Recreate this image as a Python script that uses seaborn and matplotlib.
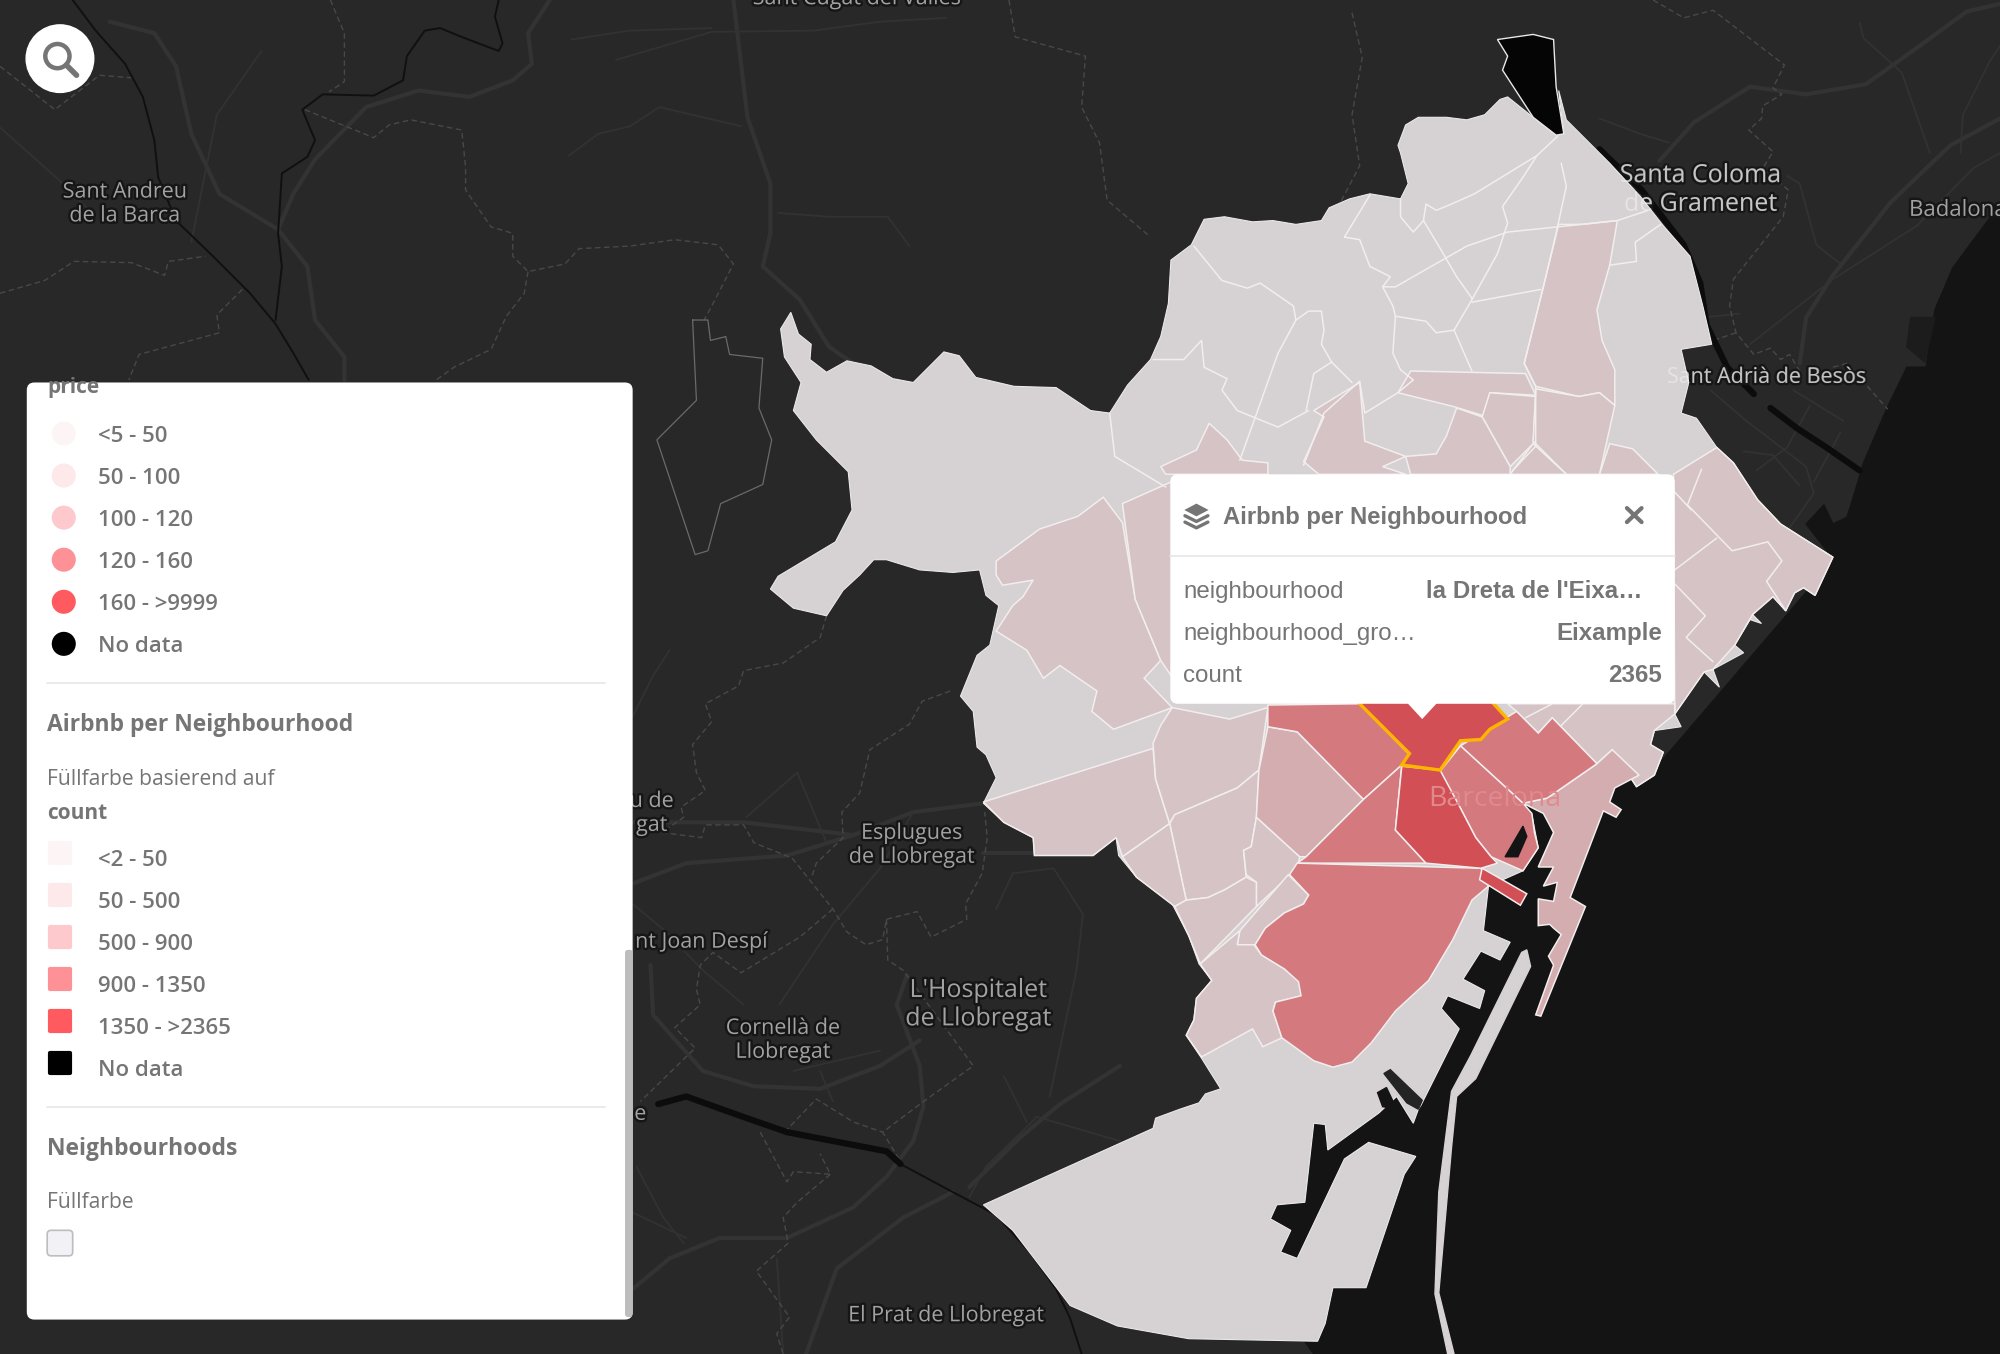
import pandas as pd
import matplotlib.pyplot as plt
import matplotlib.patheffects as pe
from matplotlib.patches import FancyBboxPatch, Circle, Polygon
import seaborn as sns

# Colours for the count classes as they look on the map
LAND = "#d6d1d3"
PALE = "#d5c3c5"
MID = "#d4adb0"
SALMON = "#d4797e"
RED = "#d14f55"
BG = "#282828"
SEA = "#141414"
GREY_TEXT = "#757575"

# Legend content
price_labels = ["<5 - 50", "50 - 100", "100 - 120", "120 - 160", "160 - >9999", "No data"]
count_labels = ["<2 - 50", "50 - 500", "500 - 900", "900 - 1350", "1350 - >2365", "No data"]
class_colors = ["#fdf5f5", "#fde8ea", "#fdc9cc", "#fe9195", "#fe5a5f", "#000000"]

# Popup content
popup_keys = ["neighbourhood", "neighbourhood_gro…", "count"]
popup_values = ["la Dreta de l'Eixa…", "Eixample", "2365"]

# Map shapes
city_outline = [(612,258),(620,245),(626,262),(636,270),(635,282),(648,292),(664,283),(683,287),(700,297),(716,300),
    (728,288),(740,276),(752,279),(765,296),(795,303),(828,304),(855,322),(870,324),(884,302),(902,282),(910,264),
    (916,238),(918,204),(934,192),(944,172),(960,170),(982,174),(998,173),(1016,176),(1036,173),(1042,163),(1058,156),
    (1074,152),(1098,156),(1104,144),(1098,120),(1096,114),(1102,98),(1112,92),(1134,92),(1150,94),(1164,90),(1176,78),
    (1182,76),(1202,92),(1220,106),(1226,105),(1222,71),(1228,94),(1262,128),(1286,154),(1304,177),(1325,201),(1335,240),
    (1342,270),(1318,274),(1324,300),(1318,324),(1330,328),(1346,351),(1359,363),(1378,392),
    (1396,411),(1437,437),(1423,467),(1414,461),(1407,465),(1400,479),(1390,468),(1374,482),(1381,489),(1372,486),
    (1360,506),(1367,512),(1343,525),(1348,539),(1336,527),(1313,560),(1318,570),(1297,573),(1294,584),(1304,590),
    (1297,608),(1283,617),(1264,588),(1194,633),(1201,639),(1206,665),(1194,683),(1167,695),(1163,730),(1184,739),
    (1176,753),(1161,746),(1147,768),(1164,777),(1160,791),(1135,781),(1130,791),(1144,807),(1114,867),(1112,870),
    (1108,881),(1095,860),(1081,873),(1041,902),(1039,882),(1030,881),(1023,943),(1001,945),(996,956),(1012,965),
    (1004,982),(1017,987),(1054,909),(1073,896),(1110,907),(1101,921),(1071,1010),(1045,1010),(1039,1038),(1033,1052),
    (932,1050),(876,1040),(839,1024),(820,999),(794,965),(771,945),(904,885),(906,877),(925,870),(940,865),(945,858),
    (957,854),(942,830),(930,812),(936,800),(938,783),(950,769),(940,756),(932,734),(919,709),(891,688),(877,671),
    (875,657),(857,671),(811,671),(810,657),(787,645),(771,630),(781,610),(773,592),(766,586),(763,558),(753,546),
    (766,514),(776,506),(783,475),(773,467),(768,447),(747,449),(721,447),(695,439),(685,439),(674,451),(661,463),
    (648,483),(622,477),(604,462),(610,452),(635,437),(655,425),(668,400),(665,370),(640,345),(622,322),(628,300),(615,280)]

breakwater = [(1193,747),(1197,745),(1200,758),(1157,846),(1142,860),(1138,900),(1128,1014),(1140,1062),(1135,1062),
    (1125,1015),(1128,935),(1138,856),(1153,828)]
no_data_area = [(1174,31),(1202,27),(1218,31),(1220,68),(1226,105),(1220,106),(1202,92),(1178,55),(1182,44)]
sea_area = [(1568,165),(1560,171),(1531,210),(1517,243),(1510,288),(1495,288),(1479,321),(1461,363),(1453,390),(1437,440),
    (1300,600),(1200,620),(1150,690),(1000,880),(985,1000),(1030,1062),(1568,1062)]
besos_mouth = [(1416,411),(1430,396),(1437,411),(1456,402),(1437,438)]
marina_basin = [(1498,249),(1517,249),(1509,284),(1495,272)]

pale_areas = [
    [(771,629),(904,587),(906,611),(917,646),(880,672),(875,657),(857,671),(811,671),(810,657),(787,645)],
    [(919,555),(964,564),(994,555),(987,604),(970,618),(921,639),(917,646),(906,611),(904,583),(910,569)],
    [(917,646),(921,639),(970,618),(987,604),(985,641),(981,664),(975,667),(977,688),(960,698),(947,704),(930,706)],
    [(880,672),(917,646),(930,706),(921,711),(891,688)],
    [(985,641),(1019,672),(1017,681),(985,711),(985,692),(977,686),(975,667),(981,664)],
    [(921,711),(930,706),(947,704),(960,698),(977,688),(985,692),(985,711),(941,756),(932,734)],
    [(1010,686),(1026,702),(1022,709),(1007,716),(992,728),(984,741),(981,741),(970,741),(972,730)],
    [(941,756),(972,730),(970,741),(983,741),(989,749),(1007,760),(1020,770),(1022,781),(1000,786),(998,793),(1005,814),
     (990,821),(982,807),(942,829),(930,812),(936,800),(938,783),(950,769)],
    [(781,440),(815,415),(845,405),(865,390),(880,410),(890,470),(910,518),(897,532),(919,555),(873,572),(856,558),
     (860,542),(831,522),(818,532),(805,510),(781,495),(794,475),(802,468),(810,455),(786,459),(781,451)],
    [(880,395),(925,375),(925,540),(910,518),(890,470)],
    [(1222,176),(1240,176),(1268,173),(1262,208),(1252,243),(1256,267),(1266,290),(1266,318),(1254,308),(1238,311),
     (1204,303),(1195,285),(1210,225)],
    [(1106,291),(1196,293),(1204,310),(1168,308),(1166,327),(1140,319),(1096,308)],
    [(1168,308),(1204,311),(1202,348),(1184,366),(1162,327)],
    [(1204,305),(1238,311),(1254,308),(1266,318),(1254,372),(1228,372),(1202,346)],
    [(1202,348),(1228,372),(1184,372)],
    [(1142,320),(1162,327),(1184,366),(1184,372),(1106,372),(1102,358),(1126,356),(1134,342)],
    [(1262,348),(1280,352),(1300,372),(1254,372)],
    [(1066,300),(1070,346),(1102,358),(1084,366),(1102,372),(1034,372),(1022,362),(1038,327),(1030,322)],
    [(948,332),(962,345),(974,361),(994,363),(994,372),(914,372),(910,366),(938,353)],
    [(1312,372),(1346,351),(1359,363),(1378,392),(1396,411),(1437,437),(1423,467),(1414,461),(1407,465),(1400,479),(1390,468),
     (1374,482),(1360,506),(1343,525),(1336,527),(1313,560)],
    [(1182,552),(1313,552),(1313,560),(1297,573),(1294,584),(1304,590),(1297,608),(1283,617),(1264,588),(1252,599),
     (1217,563),(1206,575),(1189,558)],
]
mid_areas = [
    [(994,570),(1017,574),(1069,627),(1024,672),(1019,672),(985,641),(987,604)],
    [(1194,630),(1213,626),(1252,599),(1264,588),(1285,608),(1266,618),(1262,629),(1271,635),(1267,641),(1257,636),
     (1231,704),(1243,711),(1208,797),(1204,796),(1218,757),(1214,750),(1224,733),(1218,728),(1215,725),(1206,726),
     (1206,705),(1218,707),(1221,692),(1210,695),(1218,680),(1206,680),(1218,653),(1210,638)],
]
salmon_areas = [
    [(994,553),(1066,552),(1105,592),(1099,600),(1069,627),(1017,574),(994,570)],
    [(1099,600),(1094,651),(1118,677),(1017,677),(1024,672),(1069,627)],
    [(1145,585),(1189,558),(1206,575),(1217,563),(1252,599),(1213,626),(1194,630)],
    [(1129,605),(1145,585),(1194,630),(1201,638),(1203,653),(1206,665),(1194,683),(1169,672),(1157,657),(1144,632)],
    [(1017,677),(1161,681),(1167,695),(1154,706),(1139,737),(1120,769),(1094,793),(1075,818),(1060,833),(1045,837),
     (1030,832),(1005,814),(998,793),(1000,786),(1020,781),(1018,770),(1007,760),(989,749),(984,741),(992,728),
     (1007,716),(1022,709),(1026,702),(1011,686)],
]
red_areas = [
    [(1099,601),(1129,604),(1144,632),(1157,657),(1169,672),(1174,677),(1161,681),(1118,677),(1094,651)],
    [(1162,681),(1197,701),(1192,710),(1160,690)],
]
selected_area = [(1066,552),(1105,591),(1099,600),(1129,604),(1145,581),(1161,580),(1168,572),(1182,564),(1171,552),(1120,500)]
port_holes = [
    [(1194,648),(1197,656),(1190,672),(1180,672)],
    [(1080,857),(1087,853),(1095,870),(1084,868)],
]
dark_slits = [[(1085,842),(1090,839),(1115,863),(1112,870),(1103,865)]]

boundary_lines = [
    [(1221,107),(1205,122),(1194,139),(1178,162),(1182,175),(1174,199),(1154,235),(1140,259),(1126,261),(1118,252),
     (1094,248),(1092,240),(1084,225),(1090,217),(1074,209),(1066,188),(1054,186),(1074,153)],
    [(1205,122),(1174,141),(1156,152),(1138,160),(1126,165),(1118,160),(1116,173),(1108,182),(1098,170),(1098,156)],
    [(1116,173),(1128,193),(1142,217),(1154,234)],
    [(1268,173),(1240,176),(1182,182),(1150,193),(1094,225),(1084,225)],
    [(1224,128),(1228,146),(1220,183),(1210,225),(1195,285),(1204,303),(1204,350),(1186,369)],
    [(1154,237),(1208,227)],
    [(1140,259),(1154,291)],
    [(1302,176),(1282,190),(1283,205),(1262,208)],
    [(1292,165),(1268,173)],
    [(1094,248),(1092,277),(1098,290),(1108,298),(1096,308),(1070,324),(1066,299),(1038,324),(1022,365)],
    [(936,193),(958,220),(978,226),(988,222),(1014,240),(1016,251)],
    [(1016,251),(1026,244),(1036,244),(1038,259),(1036,270),(1044,284),(1060,300)],
    [(1016,251),(1002,277),(986,322),(972,361)],
    [(904,282),(928,282),(942,267),(944,288),(962,297),(958,306),(970,322),(1002,335),(1026,322)],
    [(1044,284),(1030,293),(1024,322)],
    [(870,324),(874,358),(914,382)],
    [(1334,368),(1323,396),(1358,432),(1386,425),(1397,440),(1385,456),(1400,479)],
    [(1346,422),(1313,447)],
    [(1313,458),(1337,483),(1322,500),(1343,519)],
    [(1196,563),(1217,552)],
    [(1224,569),(1241,552)],
    [(1300,372),(1326,400)],
]

# Streets of the base map
wide_roads = [
    [(86,17),(121,26),(138,52),(150,105),(172,152),(218,180),(241,209),(247,251),(270,280),(270,298)],
    [(218,180),(230,152),(247,125),(287,84),(328,71),(368,76),(402,63),(417,50),(414,26),(431,0)],
    [(575,0),(586,92),(604,144),(604,183),(598,209),(627,235),(650,272),(673,288)],
    [(1301,126),(1328,96),(1372,68),(1416,74),(1463,66),(1505,36),(1542,9),(1568,3)],
    [(1411,285),(1416,249),(1437,216),(1482,159),(1529,114),(1568,93)],
    [(496,693),(538,677),(617,671),(669,655),(716,637),(771,630)],
    [(496,645),(583,645),(669,655)],
    [(878,836),(831,866),(800,892),(760,931)],
    [(711,765),(703,788),(721,836),(724,868),(716,895),(695,923),(669,947),(617,971),(564,971),(525,987),(496,1011)],
    [(747,935),(708,955),(656,995),(632,1062)],
    [(510,757),(512,796),(551,840),(591,852),(643,854),(690,836),(721,816)],
    [(771,669),(810,669)],
]
thin_roads = [
    [(483,47),(517,37),(558,25),(638,24),(690,17),(742,14)],
    [(448,31),(494,24),(558,22)],
    [(446,122),(469,105),(494,99),(517,84),(581,99)],
    [(610,167),(650,170),(696,170),(713,193)],
    [(1372,270),(1437,219),(1503,177),(1547,132),(1568,120)],
    [(1254,93),(1286,105),(1309,112)],
    [(1458,18),(1461,30),(1491,57),(1513,120)],
    [(1401,138),(1411,144),(1424,192),(1443,207)],
    [(1568,36),(1560,48),(1539,90),(1537,120)],
    [(1335,249),(1364,246)],
    [(1341,306),(1369,330),(1416,366),(1422,387),(1403,414)],
    [(1406,306),(1445,330)],
    [(1419,318),(1401,351),(1377,369)],
    [(1443,339),(1422,378)],
    [(1367,354),(1390,357),(1411,381)],
    [(611,788),(653,725),(690,681),(716,637)],
    [(878,895),(813,876),(773,915),(760,939)],
    [(496,951),(538,971)],
    [(499,915),(520,955),(536,975)],
    [(609,987),(614,1062)],
    [(781,713),(794,685),(826,681),(849,717),(844,761),(823,860)],
    [(787,844),(805,880)],
    [(496,709),(520,729),(551,761),(583,788)],
    [(622,840),(690,824)],
    [(643,840),(653,864)],
    [(625,606),(585,641)],
    [(625,606),(648,661)],
    [(496,562),(512,530),(525,510)],
    [(0,100),(45,140),(70,165)],
    [(150,190),(170,90),(205,40)],
]
border_lines = [
    [(259,0),(270,26),(270,64),(258,72)],
    [(239,86),(293,108),(305,98),(322,94),(362,102),(365,131),(365,149),(385,178),(402,183),(402,201),(414,213),(443,207),
     (454,195),(494,193),(529,188),(563,192),(575,207),(558,240),(552,251)],
    [(414,213),(411,230),(397,248),(385,274),(356,288),(342,298)],
    [(791,0),(796,29),(851,44),(848,84),(862,112),(868,157),(902,186)],
    [(0,52),(43,86),(78,59),(103,61)],
    [(0,230),(35,220),(58,205),(103,206),(129,216),(132,205),(161,201)],
    [(190,227),(170,247),(172,261),(109,278),(101,298)],
    [(648,483),(643,500),(614,520),(583,526),(579,538),(553,552),(558,566),(543,584),(546,606),(553,620),(534,633),(536,641),
     (519,653),(550,657),(553,647),(583,647),(591,661),(621,673),(653,713),(664,731),(679,741),(692,737),(695,721),(719,715),
     (730,735),(758,721),(757,709),(770,685),(774,657),(772,637)],
    [(745,542),(723,550),(713,568),(682,588),(674,622),(660,637),(661,657),(640,677),(636,689)],
    [(653,713),(627,735),(581,763),(559,747),(549,757),(546,776),(549,788),(529,806),(545,822),(502,864)],
    [(695,721),(696,753),(708,761),(763,836),(724,864),(692,888),(706,911)],
    [(615,888),(640,862),(669,880),(692,888)],
    [(596,888),(617,927),(622,919),(651,921),(643,905)],
    [(651,921),(625,943),(614,955),(618,975),(593,997),(619,1033),(609,1046),(614,1062)],
    [(1296,0),(1320,14),(1343,8),(1399,51),(1390,69),(1397,74),(1382,83),(1381,93),(1371,102),(1390,119),(1382,132),(1402,149),
     (1398,170),(1359,219),(1356,240),(1361,261),(1375,278),(1388,273),(1396,282),(1403,278),(1411,291)],
    [(1361,261),(1343,267)],
    [(1437,288),(1448,285),(1480,321)],
    [(1060,10),(1068,45),(1060,90),(1066,130),(1045,170)],
]
rail_lines = [
    [(57,0),(75,24),(98,50),(112,76),(121,110),(124,139),(138,173),(167,201),(196,230),(216,254),(230,277),(242,298)],
    [(706,913),(747,935),(781,953),(808,983),(828,1011),(839,1034),(848,1062)],
    [(391,0),(388,13),(394,34),(391,40),(362,29),(345,22),(333,24),(319,44),(316,63),(293,75),(253,74),(237,86),(247,110),
     (241,123),(221,136),(218,183),(221,209),(216,251)],
]
river_lines = [
    [(516,866),(538,860),(577,874),(617,888),(695,903),(706,913)],
    [(1254,117),(1287,149),(1320,192),(1333,222),(1338,255),(1354,288),(1375,309)],
    [(1388,320),(1409,336),(1432,351),(1458,369)],
]
municipal_outline = [(543,251),(555,251),(557,267),(569,264),(572,278),(598,281),(595,320),(605,345),(598,380),(565,395),(555,432),
    (545,435),(515,345),(546,314)]

# (text, x, y, size) for the places on the map
place_names = [("Sant Andreu\nde la Barca", 98, 159, 15.5), ("Sant Cugat del Vallès", 672, -2, 15.5),
    ("Santa Coloma\nde Gramenet", 1333, 148, 18), ("Badalona", 1535, 164, 16), ("Sant Adrià de Besòs", 1385, 295, 15.5),
    ("u de\ngat", 511, 637, 15.5), ("Esplugues\nde Llobregat", 715, 662, 15.5), ("nt Joan Despí", 550, 738, 15.5),
    ("L'Hospitalet\nde Llobregat", 767, 787, 18), ("Cornellà de\nLlobregat", 614, 815, 15.5),
    ("El Prat de Llobregat", 742, 1031, 15.5), ("e", 502, 873, 15.5)]
faded_places = ["Santa Coloma\nde Gramenet", "Sant Adrià de Besòs"]

sns.set_theme(style="white")
plt.rcParams["font.family"] = ["Open Sans", "DejaVu Sans"]

fig, ax = plt.subplots(figsize=(20, 13.54), dpi=100)
ax.set_position([0, 0, 1, 1])
ax.set_xlim(0, 1568)
ax.set_ylim(1062, 0)
ax.axis("off")
fig.patch.set_facecolor(BG)
ax.add_patch(plt.Rectangle((0, 0), 1568, 1062, color=BG, zorder=0))

# base map
ax.fill(*zip(*sea_area), color=SEA, zorder=1)
ax.fill(*zip(*marina_basin), color="#1c1c1c", zorder=1.1)
ax.fill(*zip(*besos_mouth), color=SEA, zorder=1.1)
for line in wide_roads:
    ax.plot(*zip(*line), color="#333333", lw=3, zorder=1.5, solid_capstyle="round")
for line in thin_roads:
    ax.plot(*zip(*line), color="#323232", lw=1.3, zorder=1.5)
for line in border_lines:
    ax.plot(*zip(*line), color="#484848", lw=1, ls=(0, (4, 2.5)), zorder=1.55)
for line in rail_lines:
    ax.plot(*zip(*line), color="#101010", lw=1.4, zorder=1.6)
for line in river_lines:
    ax.plot(*zip(*line), color="#0c0c0c", lw=4.5, zorder=1.6)
ax.plot(*zip(*(municipal_outline + municipal_outline[:1])), color="#6a6a6a", lw=0.9, zorder=1.6)

halo = [pe.withStroke(linewidth=3.5, foreground="#161616")]
for name, x, y, size in place_names:
    ax.text(x, y + 1, name, ha="center", va="center", fontsize=size, color="#a2a2a2",
            linespacing=1.18, path_effects=halo, zorder=2)

# neighbourhoods
ax.fill(*zip(*city_outline), color=LAND, ec="#ece9ea", lw=0.8, zorder=3)
ax.fill(*zip(*breakwater), color=LAND, zorder=3)
ax.fill(*zip(*no_data_area), color="#050505", ec="#e8e8e8", lw=1.0, zorder=3)
for areas, color in [(pale_areas, PALE), (mid_areas, MID), (salmon_areas, SALMON), (red_areas, RED)]:
    for poly in areas:
        ax.fill(*zip(*poly), color=color, ec="#f2eeee", lw=1.1, zorder=3.2)
for poly in port_holes:
    ax.fill(*zip(*poly), color=SEA, zorder=3.4)
for poly in dark_slits:
    ax.fill(*zip(*poly), color="#242424", zorder=3.4)
for line in boundary_lines:
    ax.plot(*zip(*line), color="#f2eeee", lw=1.1, zorder=3.3)
ax.fill(*zip(*selected_area), fc=RED, ec="#ffb400", lw=2.4, zorder=3.6)
ax.text(1172, 627, "Barcelona", ha="center", va="center", fontsize=20.5, color="#e08a8e", zorder=3.7)
for name, x, y, size in place_names:
    if name in faded_places:
        ax.text(x, y + 1, name, ha="center", va="center", fontsize=size, color="#ffffff", alpha=0.4,
                linespacing=1.18, zorder=3.05)

# search button
ax.add_patch(Circle((47, 46), 26.5, color="white", zorder=8))
ax.add_patch(Circle((45, 44), 9.5, fc="none", ec=GREY_TEXT, lw=3.2, zorder=9))
ax.plot([52, 60], [51, 59], color=GREY_TEXT, lw=4, solid_capstyle="round", zorder=9)

# legend panel
panel = FancyBboxPatch((21, 300), 475, 735, boxstyle="round,pad=0,rounding_size=6", fc="white", ec="none", zorder=8)
ax.add_patch(panel)
ax.add_patch(FancyBboxPatch((490, 745), 6, 288, boxstyle="round,pad=0,rounding_size=2.5", fc="#bdbdbd", ec="none", zorder=9))

price_df = pd.DataFrame({"label": price_labels, "row": range(6)})
price_df["x"] = 50
price_df["y"] = 340 + price_df["row"] * 33
sns.scatterplot(data=price_df, x="x", y="y", hue="label", palette=class_colors, hue_order=price_labels,
                s=300, linewidth=0, legend=False, ax=ax, zorder=10)
count_df = pd.DataFrame({"label": count_labels, "row": range(6)})
count_df["x"] = 47
count_df["y"] = 669 + count_df["row"] * 33
sns.scatterplot(data=count_df, x="x", y="y", hue="label", palette=class_colors, hue_order=count_labels,
                marker="s", s=215, linewidth=3, edgecolor="face", legend=False, ax=ax, zorder=10)
ax.collections[-1].set_joinstyle("round")
ax.set_xlabel("")
ax.set_ylabel("")
ax.set_xlim(0, 1568)
ax.set_ylim(1062, 0)

legend_kw = dict(va="center", ha="left", color=GREY_TEXT, zorder=10)
for row, label in enumerate(price_labels):
    ax.text(77, 342 + row * 33, label, fontsize=16, fontweight="semibold", **legend_kw)
for row, label in enumerate(count_labels):
    ax.text(77, 675 + row * 33, label, fontsize=16, fontweight="semibold", **legend_kw)

price_title = ax.text(37, 304, "price", fontsize=15, fontweight="bold", clip_on=True, **legend_kw)
price_title.set_clip_path(panel)
ax.text(37, 569, "Airbnb per Neighbourhood", fontsize=16.5, fontweight="bold", **legend_kw)
ax.text(37, 611.5, "Füllfarbe basierend auf", fontsize=15.2, **legend_kw)
ax.text(37, 638, "count", fontsize=15, fontweight="bold", **legend_kw)
ax.text(37, 901.5, "Neighbourhoods", fontsize=16.5, fontweight="bold", **legend_kw)
ax.text(37, 943.5, "Füllfarbe", fontsize=15.2, **legend_kw)
for y in [536, 868]:
    ax.plot([37, 474], [y, y], color="#e6e6e6", lw=1.2, zorder=9)
ax.add_patch(FancyBboxPatch((37, 965), 20, 20, boxstyle="round,pad=0,rounding_size=3", fc="#f1f1f6", ec="#bdbdbd", lw=1.2, zorder=10))

# popup
ax.add_patch(FancyBboxPatch((917.5, 372), 395.5, 180, boxstyle="round,pad=0,rounding_size=6", fc="white", ec="none", zorder=8))
ax.add_patch(Polygon([(1103, 551), (1127, 551), (1115, 564)], fc="white", ec="none", zorder=8))
ax.plot([917.5, 1313], [436, 436], color="#e6e6e6", lw=1.2, zorder=9)
ax.add_patch(Polygon([(938, 395), (947.5, 400), (938, 405), (928.5, 400)], fc=GREY_TEXT, ec="none", zorder=9))
for y in [404.5, 409.5]:
    ax.plot([929, 938, 947], [y, y + 4.5, y], color=GREY_TEXT, lw=2.4, zorder=9)
for dx in [-1, 1]:
    ax.plot([1275.5, 1287], [404 - 5.5 * dx, 404 + 5.5 * dx], color=GREY_TEXT, lw=3, zorder=9)

popup_kw = dict(family="Liberation Sans", color=GREY_TEXT, va="center", zorder=10)
value_right = [1288, 1303, 1303]
ax.text(959, 406, "Airbnb per Neighbourhood", fontsize=17.2, fontweight="bold", ha="left", **popup_kw)
for row, (key, value) in enumerate(zip(popup_keys, popup_values)):
    ax.text(927.5, 464 + row * 33, key, fontsize=17.4, ha="left", **popup_kw)
    ax.text(value_right[row], 464 + row * 33, value, fontsize=17.4, fontweight="bold", ha="right", **popup_kw)

fig.savefig("out.png", dpi=100)
